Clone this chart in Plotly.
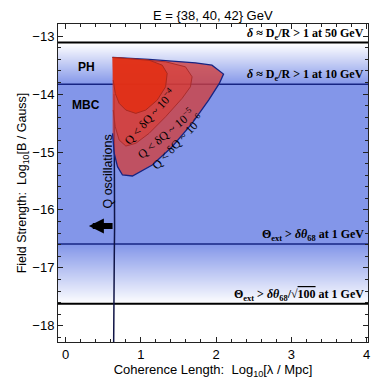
import plotly.graph_objects as go

# --- data ---
x_range = [-0.1, 4.02]
y_range = [-18.28, -12.79]

# horizontal limit lines (log10 B)
lim_50gev = -13.11
lim_10gev = -13.83
lim_theta = -16.59
lim_theta100 = -17.62

# background shading stops: y and blue intensity
bg_y = [-18.28, -17.62, -16.59, -13.83, -13.11, -12.79]
bg_level = [0.0, 0.0, 1.0, 1.0, 0.0, 0.0]

# contour regions (log10 lambda, log10 B)
outer_x = [0.625, 1.110, 1.727, 1.946, 2.100, 2.044, 1.902, 1.682, 1.417, 1.153, 0.889, 0.757, 0.691, 0.647, 0.625]
outer_y = [-13.367, -13.402, -13.460, -13.500, -13.655, -13.816, -14.103, -14.505, -14.909, -15.224, -15.414, -15.397, -15.253, -15.022, -14.678]

mid_x = [0.625, 1.330, 1.594, 1.682, 1.660, 1.549, 1.330, 1.110, 0.934, 0.802, 0.713, 0.661, 0.634]
mid_y = [-13.367, -13.443, -13.529, -13.701, -13.874, -14.074, -14.391, -14.678, -14.850, -14.897, -14.793, -14.564, -14.276]

inner_x = [0.625, 1.110, 1.285, 1.351, 1.330, 1.219, 1.066, 0.934, 0.802, 0.713, 0.661, 0.634]
inner_y = [-13.367, -13.414, -13.500, -13.643, -13.874, -14.103, -14.276, -14.333, -14.276, -14.160, -13.988, -13.759]

# Q oscillation boundary (vertical wiggly line)
osc_y = [-14.0, -14.6, -15.2, -15.8, -16.3, -16.8, -17.3, -17.8, -18.28]
osc_x = [0.646, 0.650, 0.652, 0.654, 0.652, 0.648, 0.645, 0.642, 0.640]

BLUE = 'rgb(131,150,233)'
NAVY = 'rgb(22,36,130)'
SERIF = 'Liberation Serif'
SANS = 'Liberation Sans'

fig = go.Figure()

# gradient background
fig.add_trace(go.Heatmap(
    x=x_range, y=bg_y, z=[[v, v] for v in bg_level],
    colorscale=[[0, 'white'], [1, BLUE]], zmin=0, zmax=1,
    zsmooth='best', showscale=False, hoverinfo='skip'
))

# horizontal lines
for yv, col, w in [(lim_50gev, 'black', 2), (lim_10gev, NAVY, 1.5),
                   (lim_theta, NAVY, 1.5), (lim_theta100, 'black', 2.2)]:
    fig.add_trace(go.Scatter(x=x_range, y=[yv, yv], mode='lines',
                             line=dict(color=col, width=w), hoverinfo='skip'))

# oscillation line
fig.add_trace(go.Scatter(x=osc_x, y=osc_y, mode='lines',
                         line=dict(color='rgb(15,20,70)', width=1.5), hoverinfo='skip'))

# nested regions
fig.add_trace(go.Scatter(x=outer_x, y=outer_y, fill='toself', mode='lines',
                         fillcolor='rgba(208,62,60,0.78)',
                         line=dict(color=NAVY, width=1.3), hoverinfo='skip'))
fig.add_trace(go.Scatter(x=mid_x, y=mid_y, fill='toself', mode='lines',
                         fillcolor='rgba(222,58,45,0.55)',
                         line=dict(color='rgb(170,45,45)', width=1), hoverinfo='skip'))
fig.add_trace(go.Scatter(x=inner_x, y=inner_y, fill='toself', mode='lines',
                         fillcolor='rgba(228,45,15,0.8)',
                         line=dict(color='rgb(170,40,30)', width=1), hoverinfo='skip'))

annotations = []

def line_label(text, yv):
    annotations.append(dict(x=3.995, y=yv, text=text, showarrow=False,
                            xanchor='right', yanchor='bottom', yshift=-1,
                            font=dict(family=SERIF, size=12, color='black')))

line_label('<b><i>δ</i> ≈ D<sub>e</sub>/R > 1 at 50 GeV</b>', lim_50gev)
line_label('<b><i>δ</i> ≈ D<sub>e</sub>/R > 1 at 10 GeV</b>', lim_10gev)
line_label('<b>Θ<sub>ext</sub> > <i>δθ</i><sub>68</sub> at 1 GeV</b>', lim_theta)
line_label('<b>Θ<sub>ext</sub> > <i>δθ</i><sub>68</sub>/√<span style="text-decoration:overline">100</span> at 1 GeV</b>', lim_theta100)

# contour labels
for txt, xx, yy, ang in [('Q < δQ ~ 10<sup>−4</sup>', 1.119, -14.391, -48),
                         ('Q < δQ ~ 10<sup>−5</sup>', 1.330, -14.678, -40),
                         ('Q < δQ ~ 10<sup>−6</sup>', 1.493, -14.822, -47)]:
    annotations.append(dict(x=xx, y=yy, text=txt, showarrow=False, textangle=ang,
                            font=dict(family=SERIF, size=12, color='black')))

annotations += [
    dict(x=0.277, y=-13.534, text='<b>PH</b>', showarrow=False,
         font=dict(family=SANS, size=12, color='black')),
    dict(x=0.277, y=-14.19, text='<b>MBC</b>', showarrow=False,
         font=dict(family=SANS, size=12, color='black')),
    dict(x=0.559, y=-15.345, text='Q oscillations', showarrow=False, textangle=-90,
         font=dict(family=SANS, size=12.5, color='black')),
    # left-pointing arrow
    dict(x=0.31, y=-16.276, ax=0.645, ay=-16.276, xref='x', yref='y', axref='x', ayref='y',
         text='', showarrow=True, arrowhead=2, arrowsize=0.5, arrowwidth=6, arrowcolor='black'),
    dict(x=0.5, y=1.028, xref='paper', yref='paper', text='E = {38, 40, 42} GeV',
         showarrow=False, yanchor='middle', font=dict(family=SANS, size=13, color='black')),
]

axis_common = dict(
    showgrid=False, zeroline=False, ticks='inside', ticklen=5, tickwidth=1,
    tickcolor='#222', mirror='allticks', showline=True, linecolor='#222', linewidth=1,
    tickfont=dict(family=SANS, size=13, color='black'),
    minor=dict(ticks='inside', ticklen=3, tickcolor='#222', dtick=0.2, showgrid=False),
)

# page body adds an 8px offset, so the figure is drawn 8px smaller
fig.update_layout(
    width=372, height=377,
    margin=dict(l=50, r=10, t=16, b=43),
    paper_bgcolor='white', plot_bgcolor='white',
    showlegend=False,
    annotations=annotations,
    xaxis=dict(range=x_range, dtick=1, tick0=0,
               title=dict(text='Coherence Length:  Log<sub>10</sub>[λ / Mpc]', standoff=4,
                          font=dict(family=SANS, size=13, color='black')),
               **axis_common),
    yaxis=dict(range=y_range, dtick=1, tick0=-13,
               title=dict(text='Field Strength:  Log<sub>10</sub>[B / Gauss]', standoff=2,
                          font=dict(family=SANS, size=12.5, color='black')),
               **axis_common),
)

fig.write_html("out.html")
